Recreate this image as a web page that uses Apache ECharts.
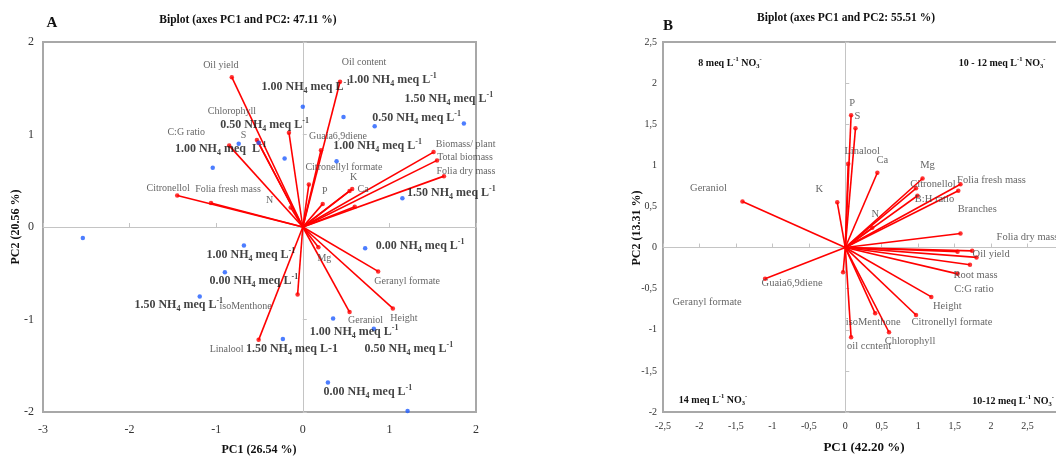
<!DOCTYPE html>
<html><head><meta charset="utf-8">
<script src="https://cdn.jsdelivr.net/npm/echarts@6/dist/echarts.min.js"></script>
<style>html,body{margin:0;padding:0;background:#fff}#c{width:1056px;height:457px}</style>
</head><body><div id="c"></div>
<script>
// ---------------- DATA ----------------
// Panel A : variable vectors (loadings)
const aVarNames = ['Oil yield','Oil content','','Chlorophyll','S','C:G ratio','Citronellol','Folia fresh mass','N','P','Citronellyl formate','Guaia6,9diene','K','Ca','Biomass/ plant','Total biomass','Folia dry mass','','Mg','Geranyl formate','Height','Geraniol','isoMenthone','Linalool'];
const aVarX = [-0.82,0.43,-0.16,-0.53,-0.51,-0.85,-1.45,-1.06,-0.14,0.23,0.07,0.21,0.54,0.57,1.51,1.55,1.63,0.60,0.18,0.87,1.04,0.54,-0.06,-0.51];
const aVarY = [1.62,1.57,1.02,0.94,0.91,0.88,0.34,0.26,0.21,0.25,0.46,0.83,0.39,0.41,0.81,0.72,0.55,0.22,-0.22,-0.48,-0.88,-0.92,-0.73,-1.22];
// Panel A : observations
const aObsLabels = ['1.00 NH_4 meq L^-1','1.00 NH_4 meq L^-1','0.50 NH_4 meq L^-1','1.50 NH_4 meq L^-1','1.00 NH_4 meq L^-1','1.50 NH_4 meq L^-1','','1.00 NH_4 meq  L^-1','0.50 NH_4 meq L^-1','','','1.00 NH_4 meq L^-1','0.00 NH_4 meq L^-1','1.50 NH_4 meq L^-1','0.00 NH_4 meq L^-1','1.00 NH_4 meq L^-1','0.50 NH_4 meq L^-1','1.50 NH_4 meq L-1','0.00 NH_4 meq L^-1',''];
const aObsX = [0.00,0.47,0.83,1.86,0.39,1.15,-0.21,-0.74,-0.51,-1.04,-2.54,-0.68,-0.90,-1.19,0.72,0.35,0.82,-0.23,0.29,1.21];
const aObsY = [1.30,1.19,1.09,1.12,0.71,0.31,0.74,0.90,0.91,0.64,-0.12,-0.20,-0.49,-0.75,-0.23,-0.99,-1.10,-1.21,-1.68,-1.99];
// Panel B : variable vectors
const bVarNames = ['P','S','Linalool','Ca','K','N','Mg','Citronellol','B:H ratio','Folia fresh mass','Branches','Geraniol','Folia dry mass','Oil yield','','','C:G ratio','Root mass','Height','Citronellyl formate','Chlorophyll','isoMenthone','oil ccntent','Guaia6,9diene','Geranyl formate'];
const bVarX = [0.08,0.14,0.04,0.44,-0.11,0.37,1.06,0.97,0.99,1.58,1.55,-1.41,1.58,1.74,1.80,1.54,1.71,1.54,1.18,0.97,0.60,0.41,0.08,-1.10,-0.03];
const bVarY = [1.61,1.45,1.02,0.91,0.55,0.24,0.84,0.72,0.63,0.77,0.69,0.56,0.17,-0.04,-0.12,-0.05,-0.21,-0.32,-0.60,-0.82,-1.03,-0.80,-1.09,-0.38,-0.30];
// Axes / texts
const aXRange = [-3, 2, 1];
const aYRange = [-2, 2, 1];
const bXRange = [-2.5, 3, 0.5];
const bYRange = [-2, 2.5, 0.5];
const titleA = 'Biplot (axes PC1 and PC2: 47.11 %)';
const titleB = 'Biplot (axes PC1 and PC2: 55.51 %)';
const aXName = 'PC1 (26.54 %)', aYName = 'PC2 (20.56 %)';
const bXName = 'PC1 (42.20 %)', bYName = 'PC2 (13.31 %)';
const bQuadrants = ['8 meq L^-1 NO_3^-', '10 - 12 meq L^-1 NO_3^-', '14 meq L^-1 NO_3^-', '10-12 meq L^-1 NO_3^-'];

// ---------------- LAYOUT (label offsets in px) ----------------
const aVarLabelOffsets = [[-11,-12],[24,-19],[0,0],[-25,-29],[-15,-7],[-43,-13],[-9,-7],[17,-14],[-21,-7],[2,-13],[35,-17],[17,-14],[4,-14],[11,0],[32,-8],[28,-3],[22,-5],[0,0],[6,11],[29,10],[11,10],[16,8],[-52,12],[-32,10]];
const aObsLabelOffsets = [[3,-20],[49,-37],[42,-8],[-15,-24],[41,-15],[49,-5],[0,0],[-18,5],[6,-18],[0,0],[0,0],[7,9],[29,9],[-21,9],[55,-2],[21,13],[35,20],[9,10],[40,10],[0,0]];
const bVarLabelOffsets = [[1,-12],[2,-12],[14,-12],[5,-12],[-18,-13],[3,-14],[5,-13],[17,-4],[17,3],[31,-4],[19,18],[-34,-13],[67,4],[19,3],[0,0],[0,0],[4,24],[18,1],[16,9],[36,7],[21,9],[-2,9],[18,9],[27,4],[-136,30]];
const bQuadPos = [[730,63],[1002,63],[713,400],[1013,401]];

const FONT = 'Liberation Serif';
const RED = '#ff0000', BLUE = '#1f5cff';
const gridA = {left:43, top:42, width:433, height:370};
const gridB = {left:663, top:42, width:401, height:370};

function richify(s, b, sub, sup) {
  const re = /(_[^\s^_]+)|(\^[^\s^_]+)|([^_^]+)/g;
  let m, out = '';
  while ((m = re.exec(s)) !== null) {
    if (m[1]) out += '{' + sub + '|' + m[1].slice(1) + '}';
    else if (m[2]) out += '{' + sup + '|' + m[2].slice(1) + '}';
    else out += '{' + b + '|' + m[3] + '}';
  }
  return out;
}

function vectorSeries(names, xs, ys, offs, ai, fs) {
  return [{
    type:'lines', coordinateSystem:'cartesian2d', xAxisIndex:ai, yAxisIndex:ai, silent:true, z:3,
    lineStyle:{color:RED, width:1.6, opacity:1},
    data: xs.map((x,i)=>({coords:[[0,0],[x,ys[i]]]}))
  },{
    type:'scatter', xAxisIndex:ai, yAxisIndex:ai, silent:true, z:4, symbolSize:4.5,
    itemStyle:{color:RED},
    label:{show:true, position:['50%','50%'], align:'center', verticalAlign:'middle',
      formatter:p=>p.name, color:'#404040', fontFamily:FONT, fontSize:fs, textBorderWidth:0},
    data: xs.map((x,i)=>({value:[x,ys[i]], name:names[i], label:{offset:offs[i]}}))
  }];
}

function axisPair(grid, range, dim, fs, fmt) {
  const [mn, mx, iv] = range;
  const isX = dim === 'x';
  const base = {gridIndex:grid, type:'value', min:mn, max:mx, interval:iv, splitLine:{show:false}};
  return [
    Object.assign({}, base, {position: isX ? 'bottom':'left',
      axisLine:{show:false, onZero:false}, axisTick:{show:false},
      axisLabel:{show:true, fontFamily:FONT, fontSize:fs, color:'#333', margin: isX ? (grid===0?12:9) : (grid===0?9:6),
        formatter: fmt}}),
    Object.assign({}, base, {position: isX ? 'top':'right',
      axisLine:{show:true, onZero:true, lineStyle:{color:'#c4c4c4', width:1}},
      axisTick:{show:true, length:4, lineStyle:{color:'#c4c4c4'}},
      axisLabel:{show:false}})
  ];
}

const fmtA = v => String(v);
const fmtB = v => String(v).replace('.', ',');
const xA = axisPair(0, aXRange, 'x', 12, fmtA), yA = axisPair(0, aYRange, 'y', 12, fmtA);
const xB = axisPair(1, bXRange, 'x', 10, fmtB), yB = axisPair(1, bYRange, 'y', 10, fmtB);

const obsRich = {
  b:{fontFamily:FONT, fontWeight:'bold', fontSize:12, lineHeight:16, color:'#111'},
  sub:{fontFamily:FONT, fontWeight:'bold', fontSize:8, lineHeight:8, verticalAlign:'bottom', color:'#111'},
  sup:{fontFamily:FONT, fontWeight:'bold', fontSize:8, lineHeight:8, verticalAlign:'top', color:'#111'}
};

const series = [
  ...vectorSeries(aVarNames, aVarX, aVarY, aVarLabelOffsets, 0, 10),
  {
    type:'scatter', xAxisIndex:0, yAxisIndex:0, silent:true, z:5, symbolSize:4.5,
    itemStyle:{color:BLUE},
    label:{show:true, position:['50%','50%'], align:'center', verticalAlign:'middle',
      formatter:p=>p.name ? richify(p.name,'b','sub','sup') : '', rich:obsRich, textBorderWidth:0},
    data: aObsX.map((x,i)=>({value:[x,aObsY[i]], name:aObsLabels[i], label:{offset:aObsLabelOffsets[i]}}))
  },
  ...vectorSeries(bVarNames, bVarX, bVarY, bVarLabelOffsets, 2, 10.5)
];

function gtext(text, x, y, font, rot) {
  return {type:'text', x:x, y:y, rotation: rot || 0, z:10,
    style:{text:text, font:font, fill:'#111', textAlign:'center', textVerticalAlign:'middle'}};
}
const quadRich = {
  q:{fontFamily:FONT, fontWeight:'bold', fontSize:10, lineHeight:14, fill:'#111', color:'#111'},
  s:{fontFamily:FONT, fontWeight:'bold', fontSize:6.5, lineHeight:7, verticalAlign:'bottom', fill:'#111', color:'#111'},
  p:{fontFamily:FONT, fontWeight:'bold', fontSize:6.5, lineHeight:7, verticalAlign:'top', fill:'#111', color:'#111'}
};
const graphics = [
  gtext('A', 52, 23, 'bold 15px "Liberation Serif"'),
  gtext('B', 668, 26, 'bold 15px "Liberation Serif"'),
  gtext(titleA, 248, 20, 'bold 11.5px "Liberation Serif"'),
  gtext(titleB, 846, 18, 'bold 11.5px "Liberation Serif"'),
  gtext(aXName, 259, 450, 'bold 12px "Liberation Serif"'),
  gtext(bXName, 864, 448, 'bold 13px "Liberation Serif"'),
  gtext(aYName, 16, 227, 'bold 12px "Liberation Serif"', Math.PI/2),
  gtext(bYName, 637, 228, 'bold 12px "Liberation Serif"', Math.PI/2),
  ...bQuadrants.map((t,i)=>({type:'text', x:bQuadPos[i][0], y:bQuadPos[i][1], z:10,
    style:{text:richify(t,'q','s','p'), rich:quadRich, textAlign:'center', textVerticalAlign:'middle'}}))
];

const gridCommon = {show:true, borderColor:'#a8a8a8', borderWidth:2, containLabel:false, outerBoundsMode:'none'};
const chart = echarts.init(document.getElementById('c'), null, {renderer:'canvas'});
chart.setOption({
  animation:false,
  backgroundColor:'#fff',
  grid:[Object.assign({}, gridCommon, gridA), Object.assign({}, gridCommon, gridB)],
  xAxis:[...xA, ...xB],
  yAxis:[...yA, ...yB],
  series: series,
  graphic: graphics
});
</script></body></html>
